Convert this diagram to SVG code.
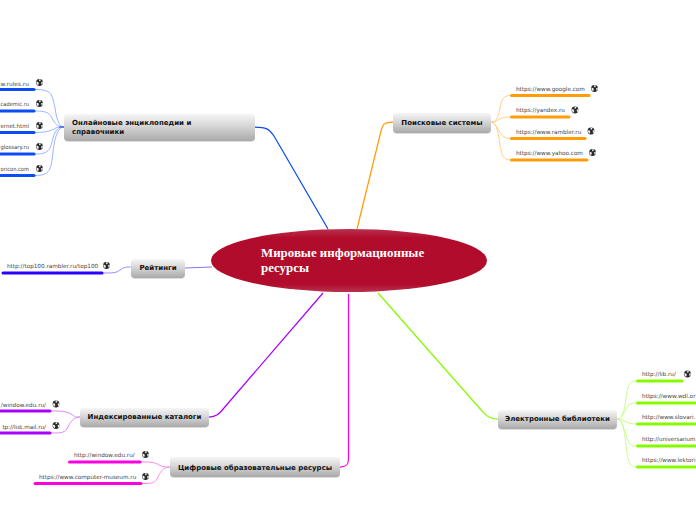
<svg xmlns="http://www.w3.org/2000/svg" width="696" height="520" viewBox="0 0 696 520">
<style>
.n{font:bold 7px "DejaVu Sans",sans-serif;fill:#111}
.m{text-anchor:middle}
.l{font:5.7px "DejaVu Sans",sans-serif;fill:#444}
.e{text-anchor:end}
.c{font:bold 12.9px "Liberation Serif",serif;fill:#fff}
.b{fill:url(#g);filter:url(#s)}
.u{fill:none;stroke-width:3;stroke-linecap:round}
.t{fill:none;stroke-width:1}
.r{fill:none;stroke-width:1.25}
.blue{stroke:#0b4cf5}.bluel{stroke:#9ab5ff}
.or{stroke:#ff9c08}.orl{stroke:#ffd08a}
.li{stroke:#86fb00}.lil{stroke:#c8fd8a}
.pu{stroke:#a800ff}.pul{stroke:#d88aff}
.ma{stroke:#fc00e0}.mal{stroke:#fd8aef}
.in{stroke:#2a00ff}.inl{stroke:#9f8aff}
</style>
<defs>
<linearGradient id="g" x1="0" y1="0" x2="0" y2="1"><stop offset="0" stop-color="#f6f6f6"/><stop offset="0.45" stop-color="#d6d6d6"/><stop offset="1" stop-color="#a9a9a9"/></linearGradient>
<linearGradient id="h" x1="0" y1="0" x2="0" y2="1"><stop offset="0" stop-color="#b9324f"/><stop offset="0.14" stop-color="#b20c2c"/><stop offset="0.88" stop-color="#b20c2c"/><stop offset="1" stop-color="#b9324f"/></linearGradient>
<filter id="s" x="-5%" y="-15%" width="110%" height="135%"><feDropShadow dx="0" dy="0.6" stdDeviation="0.7" flood-color="#000" flood-opacity="0.22"/></filter>
<symbol id="w" viewBox="0 0 8 8" overflow="visible">
<circle cx="4" cy="4" r="3.400" fill="#2a2a2a"/>
<path d="M3.700 .8 L5.400 1 L4.900 2.500 L3.600 2.800Z M.9 3.300 L2.700 3.500 L3.300 5 L2.600 6.800 L1.300 5.500Z M5.700 3.500 L7.300 3.200 L7.200 5.300 L6 6.200Z" fill="#f2f2f2"/>
</symbol>
</defs>
<g id="connectors">
<path class="r blue" d="M255 127 C266 127 269 129 274 136 L328 229"/>
<path class="r or" d="M393 122 C384 122 383 124 381 131 L357 229"/>
<path class="r" stroke="#8f70ff" d="M185 268 L212 267"/>
<path class="r li" d="M498 419 C489 419 487 416 482 411 L378 293"/>
<path class="r pu" d="M209 417 C216 417 219 414 224 408 L323 293"/>
<path class="r ma" d="M340 467 C346 467 348.500 465 348.500 459 L348.500 294"/>
<path class="t bluel" d="M35 89.500 C52 89.500 52 94 55 108 C57 122 60 127 64 127"/>
<path class="t bluel" d="M35 111 C49 111 50 114 53 120 C56 125 59 127 64 127"/>
<path class="t bluel" d="M35 132.500 C48 132.500 52 130 56 128 C58 127 60 127 64 127"/>
<path class="t bluel" d="M35 154 C49 154 50 150 53 138 C55 130 59 127 64 127"/>
<path class="t bluel" d="M35 175.500 C50 175.500 51 170 53 152 C55 134 59 127 64 127"/>
<path class="t blue" d="M59 127 H64"/>
<path class="t orl" d="M511 95.500 C503 95.500 502 99 500 108 C498 118 496 122 491 122"/>
<path class="t orl" d="M511 117 C503 117 501 118 498 120 C495 122 494 122 491 122"/>
<path class="t orl" d="M511 138.500 C503 138.500 501 134 498 129 C495 124 494 122 491 122"/>
<path class="t orl" d="M511 160 C503 160 502 156 500 145 C498 130 496 122 491 122"/>
<path class="t lil" d="M637 381 C629 381 628 385 626 398 C624 413 622 419 617 419"/>
<path class="t lil" d="M637 403 C629 403 628 405 625 411 C622 417 620 419 617 419"/>
<path class="t lil" d="M637 424 C629 424 627 422 624 421 C621 419 620 419 617 419"/>
<path class="t lil" d="M637 446 C629 446 628 442 625 432 C622 422 620 419 617 419"/>
<path class="t lil" d="M637 467 C629 467 628 462 626 445 C624 427 622 419 617 419"/>
<path class="t inl" d="M102 273 C114 273 116 273 120 270 C124 267 126 267 131 267"/>
<path class="t pul" d="M51 411 C62 411 66 411 71 414 C75 417 76 417 80 417"/>
<path class="t pul" d="M51 433 C62 433 65 433 68 427 C71 420 75 417 80 417"/>
<path class="t mal" d="M140 462 C152 462 154 462 159 465 C163 467 165 467 170 467"/>
<path class="t mal" d="M142 483.500 C154 483.500 155 483 158 477 C161 470 165 467 170 467"/>
</g>
<g id="center"><ellipse cx="349" cy="260.500" rx="138" ry="31.500" fill="url(#h)"/><text class="c" x="261" y="257">Мировые информационные</text><text class="c" x="261" y="272">ресурсы</text></g>
<g id="encyclopedias"><rect class="b" x="64" y="114" width="191" height="27" rx="4"/><text class="n" x="72" y="125">Онлайновые энциклопедии и</text><text class="n" x="72" y="134">справочники</text></g>
<g id="enc1"><path class="u blue" d="M0 89.500 H34"/><text class="l" x=".5" y="85.500" textLength="28.500" lengthAdjust="spacingAndGlyphs">w.rules.ru</text><use href="#w" x="35.500" y="78.500" width="8" height="8"/></g>
<g id="enc2"><path class="u blue" d="M0 111 H34"/><text class="l" x=".5" y="106" textLength="28.500" lengthAdjust="spacingAndGlyphs">cademic.ru</text><use href="#w" x="35.500" y="99.500" width="8" height="8"/></g>
<g id="enc3"><path class="u blue" d="M0 132.500 H34"/><text class="l" x=".5" y="128" textLength="28.500" lengthAdjust="spacingAndGlyphs">ernet.html</text><use href="#w" x="35.500" y="121.500" width="8" height="8"/></g>
<g id="enc4"><path class="u blue" d="M0 154 H34"/><text class="l" x=".5" y="149" textLength="28.500" lengthAdjust="spacingAndGlyphs">glossary.ru</text><use href="#w" x="35.500" y="142.500" width="8" height="8"/></g>
<g id="enc5"><path class="u blue" d="M0 175.500 H34"/><text class="l" x=".5" y="171" textLength="28.500" lengthAdjust="spacingAndGlyphs">oricon.com</text><use href="#w" x="35.500" y="164.500" width="8" height="8"/></g>
<g id="search"><rect class="b" x="393" y="113" width="98" height="20" rx="4"/><text class="n m" x="442" y="125">Поисковые системы</text></g>
<g id="s1"><path class="u or" d="M511.500 95.500 H589"/><text class="l" x="516" y="91">https://www.google.com</text><use href="#w" x="590.500" y="84.500" width="8" height="8"/></g>
<g id="s2"><path class="u or" d="M511.500 117 H569"/><text class="l" x="516" y="112">https://yandex.ru</text><use href="#w" x="571" y="106" width="8" height="8"/></g>
<g id="s3"><path class="u or" d="M511.500 138.500 H585"/><text class="l" x="516" y="134">https://www.rambler.ru</text><use href="#w" x="587" y="127" width="8" height="8"/></g>
<g id="s4"><path class="u or" d="M511.500 160 H587"/><text class="l" x="516" y="155">https://www.yahoo.com</text><use href="#w" x="588.500" y="148.500" width="8" height="8"/></g>
<g id="ratings"><rect class="b" x="131" y="259" width="54" height="19" rx="4"/><text class="n m" x="158" y="270">Рейтинги</text></g>
<g id="r1"><path class="u in" d="M3 273 H102"/><text class="l" x="7" y="268">http://top100.rambler.ru/top100</text><use href="#w" x="102.500" y="261.500" width="8" height="8"/></g>
<g id="libraries"><rect class="b" x="498" y="410" width="119" height="19" rx="4"/><text class="n m" x="557.500" y="421">Электронные библиотеки</text></g>
<g id="b1"><path class="u li" d="M637.500 381 H682"/><text class="l" x="642" y="376">http://lib.ru/</text><use href="#w" x="683.500" y="370" width="8" height="8"/></g>
<g id="b2"><path class="u li" d="M637.500 403 H696"/><text class="l" x="642" y="398" textLength="53.500" lengthAdjust="spacingAndGlyphs">https://www.wdl.or</text></g>
<g id="b3"><path class="u li" d="M637.500 424 H696"/><text class="l" x="642" y="419" textLength="53.500" lengthAdjust="spacingAndGlyphs">http://www.slovari.</text></g>
<g id="b4"><path class="u li" d="M637.500 446 H696"/><text class="l" x="642" y="441" textLength="53.500" lengthAdjust="spacingAndGlyphs">http://universarium</text></g>
<g id="b5"><path class="u li" d="M637.500 467 H696"/><text class="l" x="642" y="462" textLength="53.500" lengthAdjust="spacingAndGlyphs">https://www.lektori</text></g>
<g id="catalogs"><rect class="b" x="80" y="408" width="129" height="19" rx="4"/><text class="n m" x="144.500" y="419">Индексированные каталоги</text></g>
<g id="k1"><path class="u pu" d="M0 411 H50"/><text class="l e" x="46" y="407">/window.edu.ru/</text><use href="#w" x="52" y="400" width="8" height="8"/></g>
<g id="k2"><path class="u pu" d="M0 433 H50"/><text class="l e" x="46" y="428.500">tp://list.mail.ru/</text><use href="#w" x="52" y="421.500" width="8" height="8"/></g>
<g id="digital"><rect class="b" x="170" y="457" width="170" height="20" rx="4"/><text class="n m" x="255" y="470">Цифровые образовательные ресурсы</text></g>
<g id="d1"><path class="u ma" d="M69.500 462 H140"/><text class="l" x="74" y="457">http://window.edu.ru/</text><use href="#w" x="141.500" y="450.500" width="8" height="8"/></g>
<g id="d2"><path class="u ma" d="M35 483.500 H141"/><text class="l" x="39" y="479">https://www.computer-museum.ru</text><use href="#w" x="141.500" y="472.500" width="8" height="8"/></g>
</svg>
